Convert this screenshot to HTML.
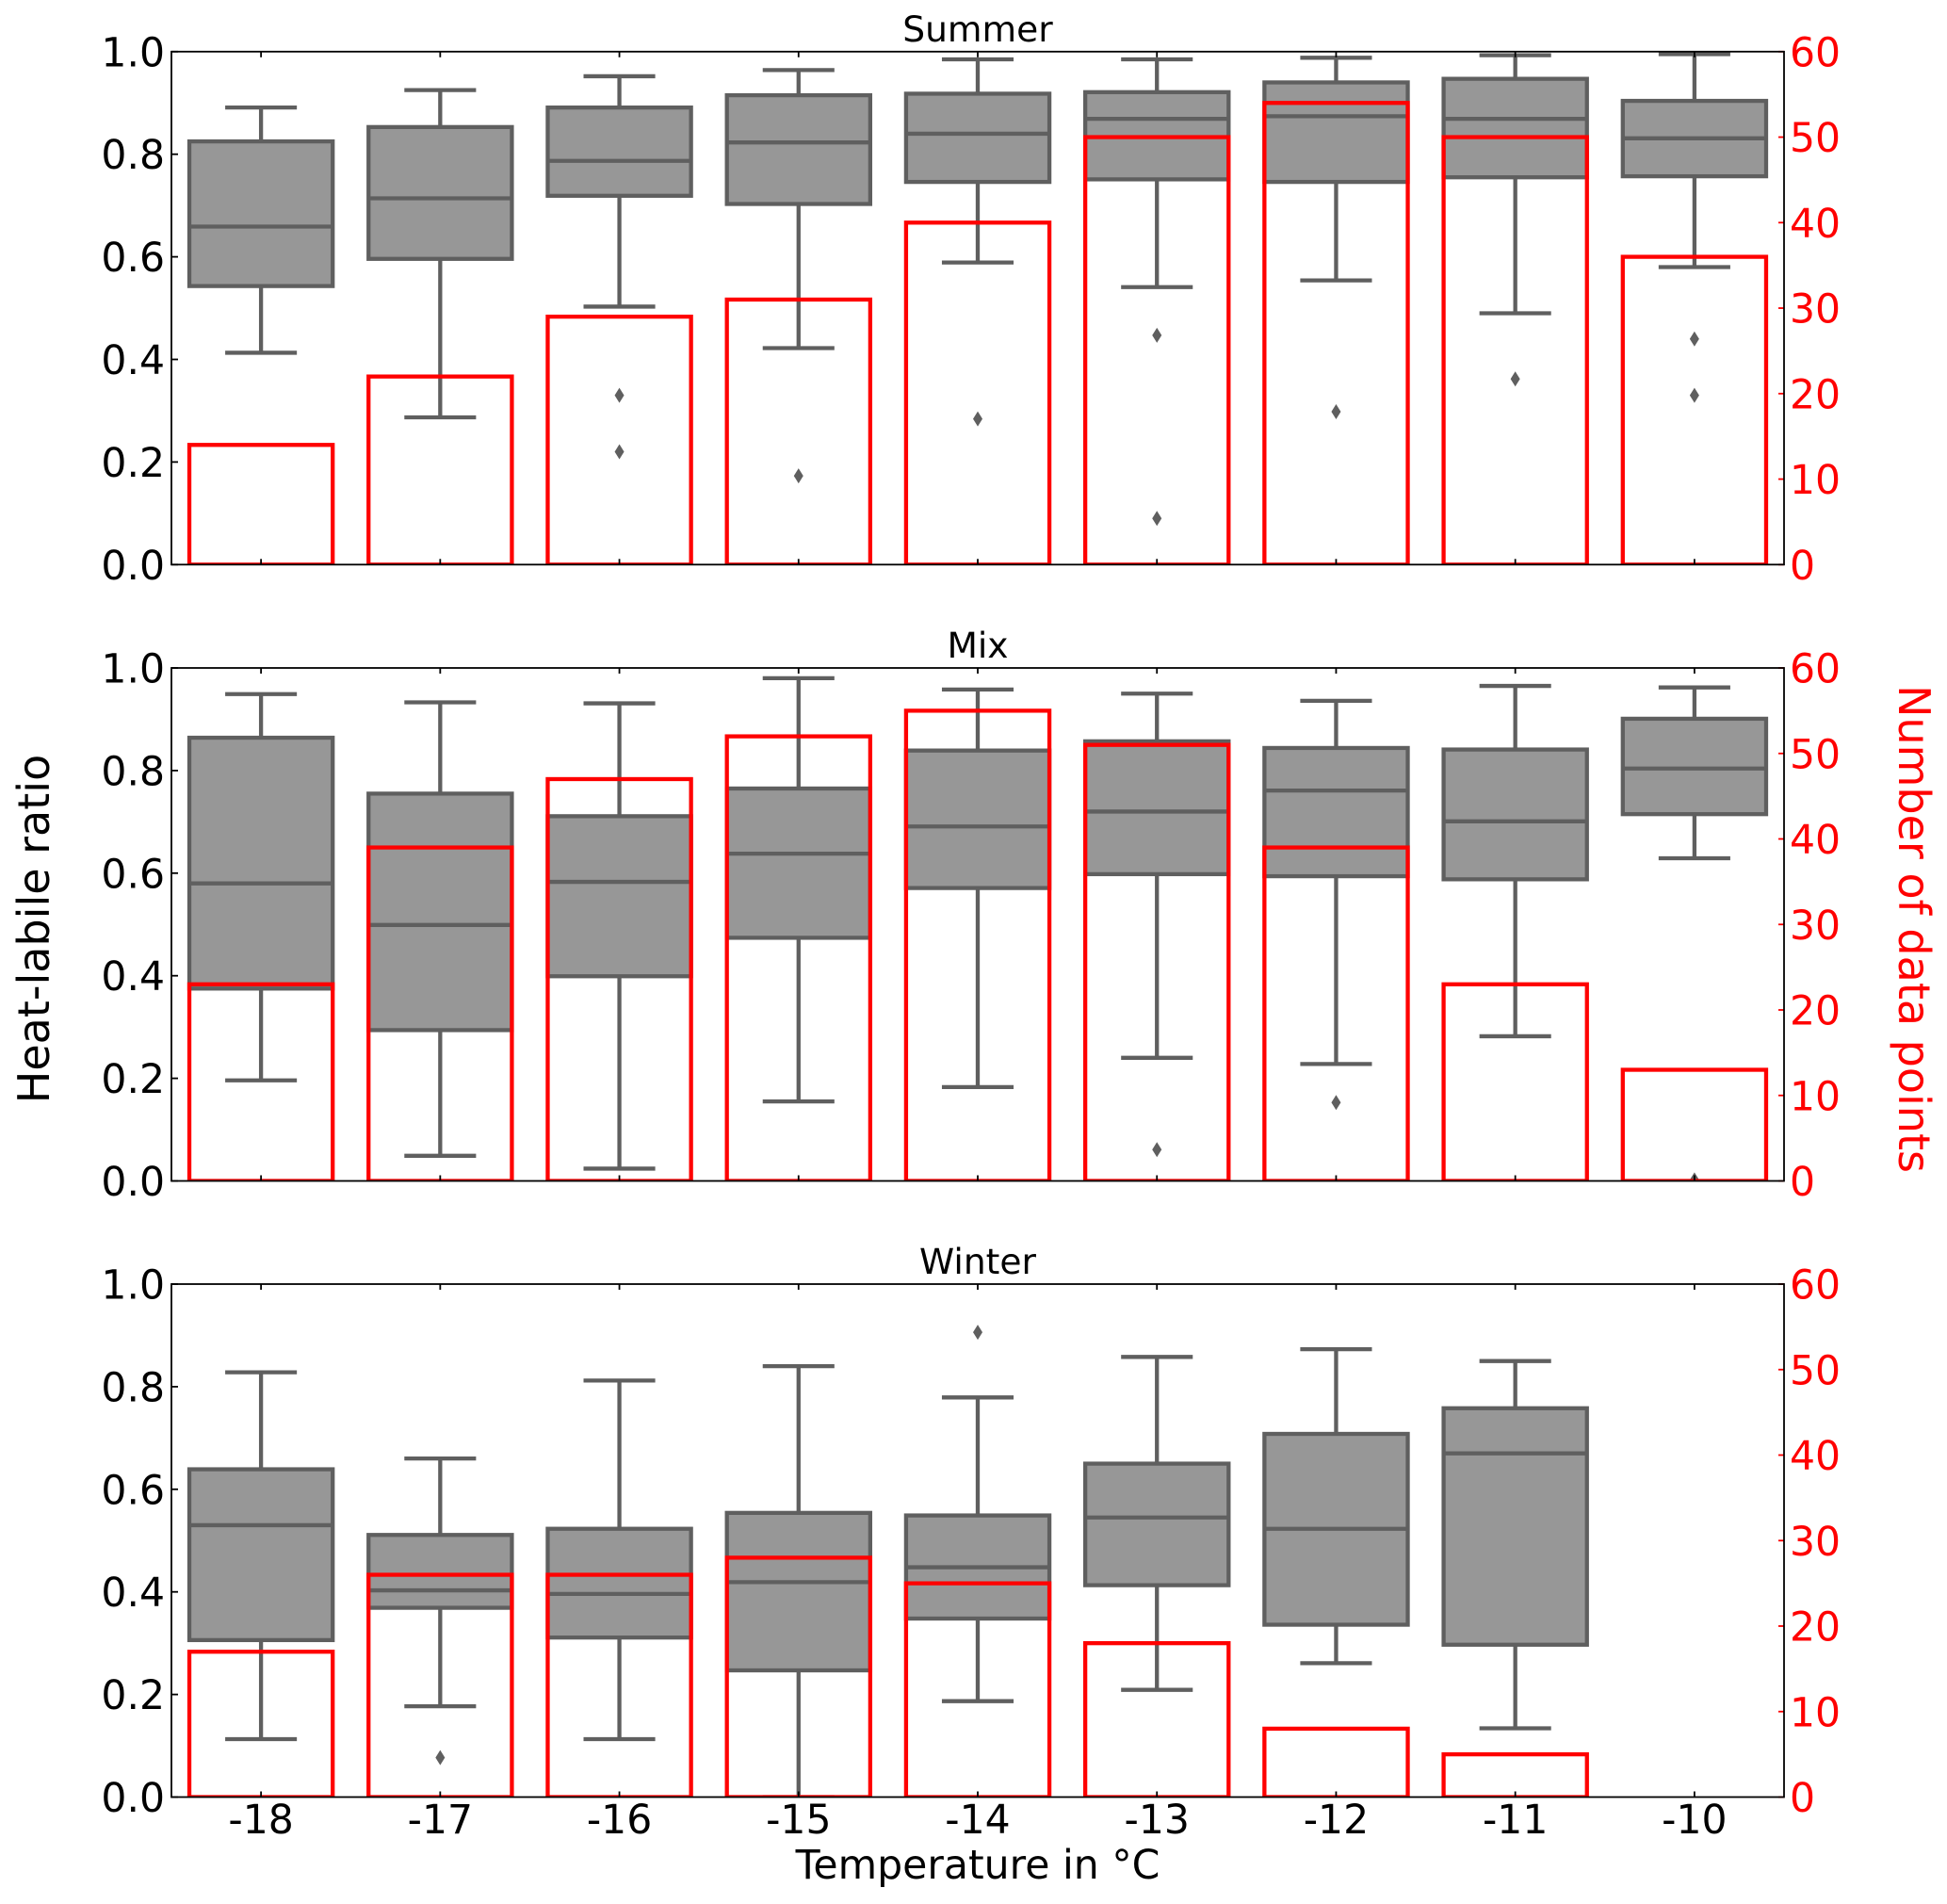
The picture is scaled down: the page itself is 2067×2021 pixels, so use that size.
<!DOCTYPE html>
<html lang="en">
<head>
<meta charset="utf-8">
<title>Heat-labile ratio by temperature</title>
<style>
html,body{margin:0;padding:0;background:#fff;width:2067px;height:2021px;overflow:hidden}
svg{display:block}
text{font-family:"DejaVu Sans","Liberation Sans",sans-serif}
</style>
</head>
<body>
<svg id="chart" xmlns="http://www.w3.org/2000/svg" width="2067" height="2021" viewBox="0 0 2067 2021">
<rect x="0" y="0" width="2067" height="2021" fill="#fff"/>
<text x="1038" y="1994" font-size="42.6" text-anchor="middle" fill="#000">Temperature in °C</text>
<text transform="translate(52,986) rotate(-90)" font-size="46" text-anchor="middle" fill="#000">Heat-labile ratio</text>
<text transform="translate(2016,986) rotate(90)" font-size="46" text-anchor="middle" fill="#f00">Number of data points</text>
</svg>
<script>
const categories = ['-18','-17','-16','-15','-14','-13','-12','-11','-10'];
const ratioTicks = ['0.0','0.2','0.4','0.6','0.8','1.0'];
const countTicks = ['0','10','20','30','40','50','60'];
const panelTitles = ['Summer','Mix','Winter'];

const summerHigh = [0.891,0.925,0.952,0.964,0.985,0.985,0.988,0.993,0.995];
const summerQ3 = [0.825,0.853,0.891,0.915,0.918,0.921,0.940,0.947,0.904];
const summerMedian = [0.659,0.714,0.787,0.823,0.840,0.869,0.874,0.869,0.831];
const summerQ1 = [0.543,0.596,0.719,0.703,0.746,0.751,0.746,0.755,0.757];
const summerLow = [0.413,0.287,0.503,0.422,0.589,0.541,0.554,0.490,0.580];
const summerOutliers = [[],[],[0.330,0.220],[0.173],[0.284],[0.447,0.090],[0.298],[0.362],[0.440,0.330]];
const summerCounts = [14,22,29,31,40,50,54,50,36];

const mixHigh = [0.949,0.933,0.931,0.980,0.958,0.950,0.936,0.965,0.962];
const mixQ3 = [0.864,0.755,0.711,0.765,0.839,0.857,0.844,0.841,0.901];
const mixMedian = [0.580,0.499,0.583,0.638,0.691,0.720,0.761,0.701,0.804];
const mixQ1 = [0.375,0.294,0.399,0.474,0.571,0.598,0.594,0.588,0.715];
const mixLow = [0.196,0.049,0.024,0.155,0.183,0.240,0.228,0.282,0.629];
const mixOutliers = [[],[],[],[],[],[0.061],[0.153],[],[0.002]];
const mixCounts = [23,39,47,52,55,51,39,23,13];

const winterHigh = [0.828,0.660,0.812,0.840,0.779,0.858,0.873,0.850,null];
const winterQ3 = [0.639,0.511,0.523,0.554,0.549,0.650,0.708,0.758,null];
const winterMedian = [0.530,0.403,0.396,0.419,0.448,0.545,0.523,0.670,null];
const winterQ1 = [0.306,0.369,0.311,0.247,0.348,0.413,0.336,0.297,null];
const winterLow = [0.113,0.177,0.113,0.000,0.187,0.209,0.261,0.134,null];
const winterOutliers = [[],[0.077],[],[],[0.906],[],[],[],[]];
const winterCounts = [17,26,26,28,25,18,8,5,0];

const svg = document.getElementById('chart');
const NS = 'http://www.w3.org/2000/svg';
const GRAY = '#5f5f5f', FILL = '#979797', RED = '#ff0000';
const LEFT = 182, RIGHT = 1894, PANEL_H = 544.5;
const panelTops = [54.8, 709, 1363];
const xStep = (RIGHT - LEFT) / categories.length;
const boxW = xStep * 0.8, capW = boxW * 0.5;
const LW = 4.3;

function mk(tag, attrs, parent) {
  const el = document.createElementNS(NS, tag);
  for (const k in attrs) el.setAttribute(k, attrs[k]);
  parent.appendChild(el);
  return el;
}
function xAt(i) { return LEFT + xStep * (i + 0.5); }

function drawPanel(p, high, q3, median, q1, low, outliers, counts) {
  const top = panelTops[p], bottom = top + PANEL_H;
  const yRatio = v => bottom - v * PANEL_H;
  const yCount = v => bottom - (v / 60) * PANEL_H;
  const name = panelTitles[p].toLowerCase();

  const g = mk('g', {}, svg);
  
  

  const clip = mk('clipPath', {id: 'clip' + p}, g);
  mk('rect', {x: LEFT, y: top, width: RIGHT - LEFT, height: PANEL_H}, clip);

  const marks = mk('g', {'clip-path': 'url(#clip' + p + ')'}, g);
  
  

  categories.forEach((c, i) => {
    if (high[i] === null) return;
    const x = xAt(i);
    const box = mk('g', {stroke: GRAY, 'stroke-width': LW, fill: 'none'}, marks);
    
    
    mk('line', {x1: x, x2: x, y1: yRatio(q3[i]), y2: yRatio(high[i])}, box);
    mk('line', {x1: x, x2: x, y1: yRatio(q1[i]), y2: yRatio(low[i])}, box);
    mk('line', {x1: x - capW / 2, x2: x + capW / 2, y1: yRatio(high[i]), y2: yRatio(high[i])}, box);
    mk('line', {x1: x - capW / 2, x2: x + capW / 2, y1: yRatio(low[i]), y2: yRatio(low[i])}, box);
    mk('rect', {x: x - boxW / 2, y: yRatio(q3[i]), width: boxW, height: yRatio(q1[i]) - yRatio(q3[i]), fill: FILL}, box);
    mk('line', {x1: x - boxW / 2, x2: x + boxW / 2, y1: yRatio(median[i]), y2: yRatio(median[i])}, box);
  });

  categories.forEach((c, i) => {
    outliers[i].forEach(v => {
      const x = xAt(i), y = yRatio(v);
      const d = mk('path', {d: 'M' + x + ' ' + (y - 8) + 'L' + (x + 5) + ' ' + y + 'L' + x + ' ' + (y + 8) + 'L' + (x - 5) + ' ' + y + 'Z', fill: GRAY}, marks);
      
      
    });
  });

  categories.forEach((c, i) => {
    if (counts[i] === 0) return;
    const x = xAt(i);
    const b = mk('rect', {x: x - boxW / 2, y: yCount(counts[i]), width: boxW, height: bottom - yCount(counts[i]), fill: 'none', stroke: RED, 'stroke-width': LW}, marks);
    
    
  });

  const axes = mk('g', {}, g);
  
  

  categories.forEach((c, i) => {
    const x = xAt(i);
    mk('line', {x1: x, x2: x, y1: top, y2: top + 6, stroke: '#000', 'stroke-width': 1.8}, axes);
    mk('line', {x1: x, x2: x, y1: bottom, y2: bottom - 6, stroke: '#000', 'stroke-width': 1.8}, axes);
    if (p === 2) {
      const t = mk('text', {x: x, y: 1946, 'font-size': 42.5, 'text-anchor': 'middle', fill: '#000'}, axes);
      
      
      t.textContent = c;
    }
  });

  ratioTicks.forEach(lbl => {
    const y = yRatio(parseFloat(lbl));
    mk('line', {x1: LEFT, x2: LEFT + 7, y1: y, y2: y, stroke: '#000', 'stroke-width': 1.8}, axes);
    const t = mk('text', {x: 175, y: y + 15.5, 'font-size': 42.5, 'text-anchor': 'end', fill: '#000'}, axes);
    
    
    t.textContent = lbl;
  });

  countTicks.forEach(lbl => {
    const y = yCount(parseFloat(lbl));
    mk('line', {x1: RIGHT, x2: RIGHT - 6, y1: y, y2: y, stroke: RED, 'stroke-width': 1.8}, axes);
    const t = mk('text', {x: 1900, y: y + 15.5, 'font-size': 42.5, 'text-anchor': 'start', fill: RED}, axes);
    
    
    t.textContent = lbl;
  });

  const frame = mk('rect', {x: LEFT, y: top, width: RIGHT - LEFT, height: PANEL_H, fill: 'none', stroke: '#000', 'stroke-width': 1.8}, axes);
  
  

  const title = mk('text', {x: (LEFT + RIGHT) / 2, y: top - 11, 'font-size': 37.6, 'text-anchor': 'middle', fill: '#000'}, g);
  
  
  title.textContent = panelTitles[p];
}

drawPanel(0, summerHigh, summerQ3, summerMedian, summerQ1, summerLow, summerOutliers, summerCounts);
drawPanel(1, mixHigh, mixQ3, mixMedian, mixQ1, mixLow, mixOutliers, mixCounts);
drawPanel(2, winterHigh, winterQ3, winterMedian, winterQ1, winterLow, winterOutliers, winterCounts);
</script>
</body>
</html>
